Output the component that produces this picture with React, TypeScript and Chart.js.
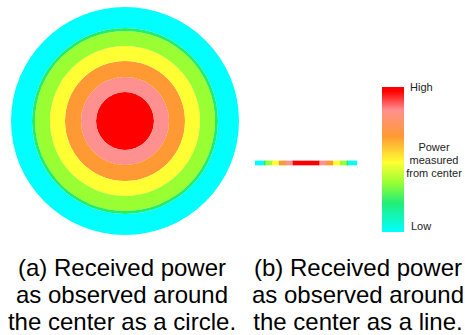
import React, { useEffect, useRef } from "react";
import { Chart, registerables } from "chart.js";

Chart.register(...registerables);

// Power levels, from the center outwards
const ringLabels = ["Highest", "Very high", "High", "Medium", "Low-medium", "Low edge", "Low"];
// outer radius of each power band (distance from center, relative units)
const ringOuterRadius = [29, 44, 60, 75, 90, 93, 114];
const ringColors = ["#ff0000", "#ff9090", "#ff9933", "#ffff33", "#99ff33", "#22ee66", "#00ffff"];

// colour bar (Low -> High)
const barStops = [0, 0.2, 0.34, 0.48, 0.66, 0.84, 0.97];
const barColors = ["#00ffff", "#22ee77", "#99ff33", "#ffff33", "#ff9933", "#ff9090", "#ff0000"];
const barTickLabels = ["Low", "High"];
const barTitleLines = ["Power", "measured", "from center"];

const captionA = ["(a) Received power", "as observed around", "the center as a circle."];
const captionB = ["(b) Received power", "as observed around", "the center as a line."];

const FONT = "'Liberation Sans', Arial, sans-serif";

function useChart(ref: React.RefObject<HTMLCanvasElement>, make: (c: HTMLCanvasElement) => Chart) {
  useEffect(() => {
    if (!ref.current) return;
    const ch = make(ref.current);
    return () => ch.destroy();
  }, []);
}

export default function App() {
  const circleRef = useRef<HTMLCanvasElement>(null);
  const lineRef = useRef<HTMLCanvasElement>(null);
  const barRef = useRef<HTMLCanvasElement>(null);

  useChart(circleRef, (c) => {
    const n = ringOuterRadius.length;
    const datasets = [];
    for (let i = n - 1; i >= 0; i--) {
      const inner = i === 0 ? 0 : ringOuterRadius[i - 1];
      datasets.push({
        label: ringLabels[i],
        data: [1],
        backgroundColor: ringColors[i],
        borderWidth: 0,
        weight: ringOuterRadius[i] - inner,
      });
    }
    return new Chart(c, {
      type: "doughnut",
      data: { labels: ["power"], datasets: datasets as any },
      options: {
        responsive: false,
        maintainAspectRatio: false,
        animation: false,
        cutout: 0,
        spacing: 0,
        layout: { padding: 0 },
        plugins: { legend: { display: false }, tooltip: { enabled: false } },
      } as any,
    });
  });

  useChart(lineRef, (c) => {
    const datasets: any[] = [];
    const n = ringOuterRadius.length;
    for (let i = 0; i < n; i++) {
      const inner = i === 0 ? 0 : ringOuterRadius[i - 1];
      const outer = ringOuterRadius[i];
      if (i === 0) {
        datasets.push({ label: ringLabels[i], data: [[-outer, outer]], backgroundColor: ringColors[i] });
      } else {
        datasets.push({ label: ringLabels[i], data: [[-outer, -inner]], backgroundColor: ringColors[i] });
        datasets.push({ label: ringLabels[i], data: [[inner, outer]], backgroundColor: ringColors[i] });
      }
    }
    datasets.forEach((d) => {
      d.grouped = false;
      d.barThickness = 4;
      d.borderWidth = 0;
      d.borderSkipped = false;
    });
    const max = ringOuterRadius[n - 1];
    return new Chart(c, {
      type: "bar",
      data: { labels: ["line"], datasets },
      options: {
        indexAxis: "y",
        responsive: false,
        maintainAspectRatio: false,
        animation: false,
        layout: { padding: 0 },
        scales: {
          x: { display: false, min: -max, max: max },
          y: { display: false },
        },
        plugins: { legend: { display: false }, tooltip: { enabled: false } },
      } as any,
    });
  });

  useChart(barRef, (c) => {
    return new Chart(c, {
      type: "bar",
      data: {
        labels: ["power"],
        datasets: [
          {
            label: "Power measured from center",
            data: [[0, 1]] as any,
            borderWidth: 0,
            barPercentage: 1,
            categoryPercentage: 1,
            backgroundColor: (ctx: any) => {
              const chart = ctx.chart;
              const area = chart.chartArea;
              if (!area) return barColors[0];
              const g = chart.ctx.createLinearGradient(0, area.bottom, 0, area.top);
              barStops.forEach((s, i) => g.addColorStop(s, barColors[i]));
              g.addColorStop(1, barColors[barColors.length - 1]);
              return g;
            },
          },
        ],
      },
      options: {
        responsive: false,
        maintainAspectRatio: false,
        animation: false,
        layout: { padding: 0 },
        scales: {
          x: { display: false },
          y: { display: false, min: 0, max: 1 },
        },
        plugins: { legend: { display: false }, tooltip: { enabled: false } },
      } as any,
    });
  });

  const abs = (s: React.CSSProperties): React.CSSProperties => ({ position: "absolute", ...s });
  const capStyle: React.CSSProperties = {
    fontSize: 24,
    lineHeight: "27px",
    textAlign: "center",
    whiteSpace: "nowrap",
    color: "#000",
  };

  return (
    <div
      style={{
        position: "fixed",
        left: 0,
        top: 0,
        width: 465,
        height: 335,
        background: "#fff",
        fontFamily: FONT,
        overflow: "hidden",
      }}
    >
      <canvas ref={circleRef} width={228} height={228} style={abs({ left: 11, top: 7, width: 228, height: 228 })} />
      <canvas ref={lineRef} width={102} height={20} style={abs({ left: 255, top: 153, width: 102, height: 20 })} />
      <canvas ref={barRef} width={22} height={145} style={abs({ left: 382, top: 87, width: 22, height: 145 })} />

      <div style={abs({ left: 410, top: 81, fontSize: 11, lineHeight: "13px", color: "#222" })}>{barTickLabels[1]}</div>
      <div style={abs({ left: 411, top: 220, fontSize: 11, lineHeight: "13px", color: "#222" })}>{barTickLabels[0]}</div>
      <div
        style={abs({
          left: 404,
          width: 60,
          top: 141,
          fontSize: 11,
          lineHeight: "13px",
          textAlign: "center",
          color: "#222",
        })}
      >
        {barTitleLines.map((t, i) => (
          <div key={i}>{t}</div>
        ))}
      </div>

      <div style={abs({ left: 2, width: 240, top: 254, ...capStyle })}>
        {captionA.map((t, i) => (
          <div key={i}>{t}</div>
        ))}
      </div>
      <div style={abs({ left: 238, width: 240, top: 254, ...capStyle })}>
        {captionB.map((t, i) => (
          <div key={i}>{t}</div>
        ))}
      </div>
    </div>
  );
}
